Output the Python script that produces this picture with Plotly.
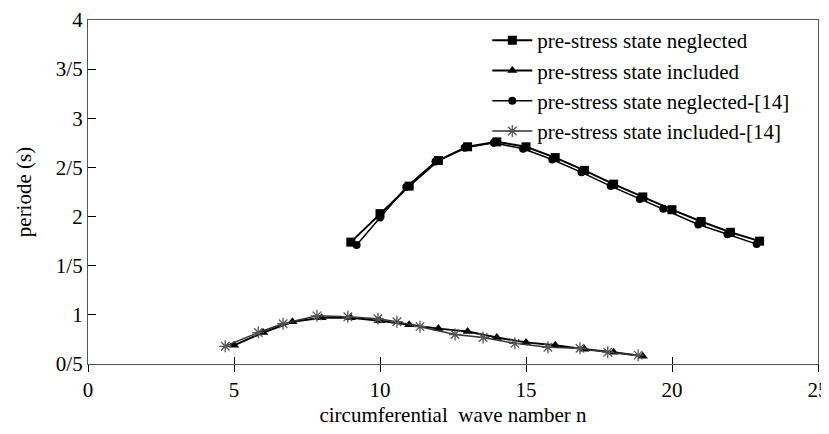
import plotly.graph_objects as go

# Data
n_neglected = [9, 10, 11, 12, 13, 14, 15, 16, 17, 18, 19, 20, 21, 22, 23]
T_neglected = [1.74, 2.03, 2.31, 2.57, 2.71, 2.76, 2.71, 2.60, 2.47, 2.33, 2.20, 2.07, 1.95, 1.84, 1.75]

n_included = [5, 6, 7, 8, 9, 10, 11, 12, 13, 14, 15, 16, 17, 18, 19]
T_included = [0.69, 0.82, 0.93, 0.97, 0.97, 0.94, 0.90, 0.86, 0.83, 0.77, 0.72, 0.69, 0.65, 0.62, 0.58]

n_neglected_ref = [9.2, 10.0, 10.9, 11.9, 12.9, 13.9, 14.9, 15.9, 16.9, 17.9, 18.9, 19.7, 20.9, 21.9, 22.9]
T_neglected_ref = [1.71, 1.99, 2.30, 2.56, 2.70, 2.75, 2.69, 2.58, 2.45, 2.31, 2.18, 2.08, 1.92, 1.82, 1.72]

n_included_ref = [4.7, 5.83, 6.68, 7.84, 8.9, 9.93, 10.58, 11.37, 12.57, 13.53, 14.62, 15.75, 16.85, 17.8, 18.84]
T_included_ref = [0.68, 0.82, 0.91, 0.99, 0.98, 0.96, 0.93, 0.88, 0.80, 0.77, 0.71, 0.67, 0.66, 0.62, 0.59]

y_tick_vals = [0.5, 1, 1.5, 2, 2.5, 3, 3.5, 4]
y_tick_text = ["0/5", "1", "1/5", "2", "2/5", "3", "3/5", "4"]

FONT = '"Times New Roman", "Liberation Serif", Tinos, "DejaVu Serif", serif'

fig = go.Figure()
fig.add_trace(go.Scatter(
    x=n_neglected, y=T_neglected, mode="lines+markers",
    name="pre-stress state neglected",
    line=dict(color="black", width=2),
    marker=dict(symbol="square", size=9, color="black")))
fig.add_trace(go.Scatter(
    x=n_included, y=T_included, mode="lines+markers",
    name="pre-stress state included",
    line=dict(color="black", width=2),
    marker=dict(symbol="triangle-up", size=9, color="black")))
fig.add_trace(go.Scatter(
    x=n_neglected_ref, y=T_neglected_ref, mode="lines+markers",
    name="pre-stress state neglected-[14]",
    line=dict(color="black", width=1.5),
    marker=dict(symbol="circle", size=8, color="black")))
fig.add_trace(go.Scatter(
    x=n_included_ref, y=T_included_ref, mode="lines+markers",
    name="pre-stress state included-[14]",
    line=dict(color="#333333", width=1.5),
    marker=dict(symbol="asterisk-open", size=10, color="#555555",
                line=dict(color="#555555", width=1.3))))
# dummy trace for the inner half of the crossing x ticks
fig.add_trace(go.Scatter(x=[0, 25], y=[None, None], xaxis="x2", mode="lines",
                         showlegend=False, hoverinfo="skip"))

# the page body adds an 8px offset, so the figure is sized to fit the window
fig.update_layout(
    width=821, height=426,
    margin=dict(l=80, r=11, t=12, b=70, autoexpand=False),
    paper_bgcolor="white", plot_bgcolor="white",
    font=dict(family=FONT, size=21, color="black"),
    showlegend=True,
    legend=dict(x=0.547, y=1.0, xanchor="left", yanchor="top",
                bgcolor="rgba(0,0,0,0)", borderwidth=0,
                font=dict(family=FONT, size=21, color="black"),
                itemwidth=40, tracegroupgap=0),
    xaxis=dict(range=[0, 25], tickvals=[0, 5, 10, 15, 20, 25],
               ticks="outside", ticklen=7, tickcolor="black", tickwidth=1,
               showline=True, linecolor="#555555", linewidth=1.3, mirror=True,
               showgrid=False, zeroline=False, automargin=False,
               tickfont=dict(family=FONT, size=21),
               title=dict(text="circumferential  wave namber n",
                          font=dict(family=FONT, size=21), standoff=5)),
    xaxis2=dict(range=[0, 25], overlaying="x", anchor="y", side="bottom",
                tickvals=[0, 5, 10, 15, 20, 25], ticks="inside", ticklen=7,
                tickcolor="black", tickwidth=1, showticklabels=False,
                showline=False, showgrid=False, zeroline=False),
    yaxis=dict(range=[0.5, 4], tickvals=y_tick_vals, ticktext=y_tick_text,
               ticks="inside", ticklen=8, tickcolor="black", tickwidth=1,
               showline=True, linecolor="#555555", linewidth=1.3, mirror=True,
               showgrid=False, zeroline=False, automargin=False,
               tickfont=dict(family=FONT, size=21),
               title=dict(text="periode (s)", font=dict(family=FONT, size=21),
                          standoff=18)),
)

fig.write_html("out.html")
